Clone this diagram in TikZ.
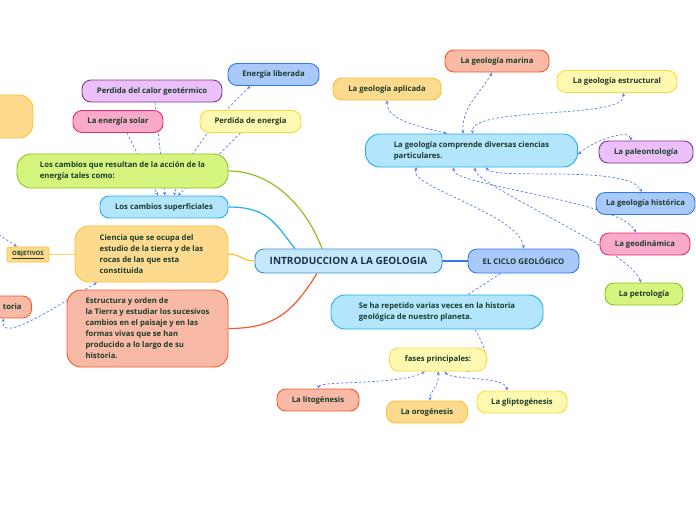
\documentclass[tikz,border=0pt]{standalone}
\usepackage{fontspec}
\setmainfont{Open Sans}
\usetikzlibrary{arrows.meta,backgrounds,calc}

\definecolor{txt}{HTML}{1B3B2B}
\definecolor{navy}{HTML}{1E2D4F}
\definecolor{lnk}{HTML}{5A7BEF}
\definecolor{gfill}{HTML}{D6F57E}\definecolor{gline}{HTML}{8DC021}
\definecolor{bfill}{HTML}{B3E5FC}\definecolor{bline}{HTML}{22AEEE}
\definecolor{ofill}{HTML}{FEDA8E}\definecolor{oline}{HTML}{FBBF2C}
\definecolor{rfill}{HTML}{F8BAA6}\definecolor{rline}{HTML}{F4592A}
\definecolor{pfill}{HTML}{EBC0FA}\definecolor{pline}{HTML}{7D3A8C}
\definecolor{kfill}{HTML}{F9AACB}\definecolor{kline}{HTML}{EA2A6E}
\definecolor{yfill}{HTML}{FFF8B0}\definecolor{yline}{HTML}{F5DC3A}
\definecolor{dfill}{HTML}{A8C9FA}\definecolor{dline}{HTML}{2F7AE5}
\definecolor{mfill}{HTML}{C4E8FA}\definecolor{mline}{HTML}{3C8ED3}

\tikzset{
	box/.style={draw, rounded corners=9pt, line width=0.9pt, text=txt, font=\bfseries\fontsize{7.7}{11}\selectfont, minimum height=22pt, inner sep=3pt},
	bigbox/.style={box, rounded corners=14pt, align=left},
	gbox/.style={fill=gfill, draw=gline},
	bbox/.style={fill=bfill, draw=bline},
	obox/.style={fill=ofill, draw=oline},
	rbox/.style={fill=rfill, draw=rline},
	pbox/.style={fill=pfill, draw=pline},
	kbox/.style={fill=kfill, draw=kline},
	ybox/.style={fill=yfill, draw=yline},
	dbox/.style={fill=dfill, draw=dline},
	dlink/.style={lnk, line width=0.7pt, dash pattern=on 2.5pt off 2pt},
	tip/.style={{Stealth[length=3.5pt,width=3.2pt]}-{Stealth[length=3.5pt,width=3.2pt]}},
	branch/.style={line width=1.2pt},
}

\begin{document}
\begin{tikzpicture}[x=1pt, y=-1pt]
	\useasboundingbox (0,0) rectangle (696,520);
	\clip (0,0) rectangle (696,520);

	% centre
	\node[box, fill=mfill, draw=mline, text=navy, font=\bfseries\fontsize{10}{12}\selectfont, minimum width=187pt, minimum height=24pt] (main) at (348.5,261) {INTRODUCCION A LA GEOLOGIA};
	\node[box, dbox, font=\bfseries\fontsize{7.8}{9}\selectfont, minimum width=111pt, minimum height=24pt] (ciclo) at (523.5,261) {EL CICLO GEOLÓGICO};

	% left branches
	\node[bigbox, gbox, minimum width=211pt, minimum height=34pt] (cambios) at (122.5,171) {Los cambios que resultan de la acción de la\\energía tales como:};
	\node[box, bbox, minimum width=128pt] (sup) at (164,207) {Los cambios superficiales};
	\node[bigbox, obox, minimum width=153pt, minimum height=56pt] (ciencia) at (151.5,254) {Ciencia que se ocupa del\\estudio de la tierra y de las\\rocas de las que esta\\constituida};
	\node[bigbox, rbox, minimum width=161pt, minimum height=77pt] (estr) at (147.5,328.5) {Estructura y orden de\\la Tierra y estudiar los sucesivos\\cambios en el paisaje y en las\\formas vivas que se han\\producido a lo largo de su\\historia.};
	\node[box, obox, rounded corners=2pt, line width=0.6pt, font=\bfseries\fontsize{6}{6}\selectfont, minimum width=42pt, minimum height=15pt, inner sep=1pt] (obj) at (28,254.5) {\underline{OBJETIVOS}};
	\node[bigbox, obox, minimum width=100pt, minimum height=43pt] (naranja) at (-17,116.5) {};
	\node[box, rbox, anchor=east, text width=40pt, align=right, inner xsep=10pt] (toria) at (32,307) {toria};

	% energy
	\node[box, pbox, minimum width=140pt] (calor) at (152,91) {Perdida del calor geotérmico};
	\node[box, dbox, minimum width=91pt] (lib) at (273.5,74.5) {Energía liberada};
	\node[box, kbox, minimum width=90pt] (solar) at (118,121.5) {La energía solar};
	\node[box, ybox, minimum width=101pt] (perd) at (250.5,121.5) {Perdida de energía};

	% sciences
	\node[bigbox, bbox, minimum width=212pt, minimum height=33pt] (cmp) at (471.5,150.5) {La geología comprende diversas ciencias\\particulares.};
	\node[box, obox, minimum width=108pt] (apl) at (387,89) {La geología aplicada};
	\node[box, rbox, minimum width=104pt] (mar) at (497,61) {La geología marina};
	\node[box, ybox, minimum width=120pt] (est) at (617,81.5) {La geología estructural};
	\node[box, pbox, minimum width=94pt] (pal) at (646,152) {La paleontología};
	\node[box, dbox, minimum width=99pt] (his) at (645.5,203.5) {La geología histórica};
	\node[box, kbox, minimum width=90pt] (geo) at (645,244) {La geodinámica};
	\node[box, gbox, minimum width=78pt] (pet) at (644,294) {La petrología};

	% cycle
	\node[bigbox, bbox, minimum width=212pt, minimum height=34pt] (seha) at (437,312) {Se ha repetido varias veces en la historia\\geológica de nuestro planeta.};
	\node[box, ybox, minimum width=97pt, minimum height=23pt] (fases) at (438,359.5) {fases principales:};
	\node[box, rbox, minimum width=82pt] (lito) at (318,400) {La litogénesis};
	\node[box, obox, minimum width=81pt] (oro) at (427,412) {La orogénesis};
	\node[box, ybox, minimum width=90pt] (gli) at (522,402) {La gliptogénesis};

	\coordinate (fuera) at (-5,232);

	\begin{scope}[on background layer]
		\draw[branch, gline] (cambios.east) .. controls +(45,0) and +(-15,-40) .. ($(main.north)+(-26.5,0)$);
		\draw[branch, bline] (sup.east) .. controls +(40,0) and +(-20,-25) .. ($(main.north)+(-53.5,0)$);
		\draw[branch, oline] (ciencia.east) .. controls +(12,0) and +(-12,0) .. (main.west);
		\draw[branch, rline] (estr.east) .. controls +(45,0) and +(-25,40) .. ($(main.south)+(-31.5,0)$);
		\draw[line width=1.5pt, dline] (main.east) -- (ciclo.west);
		\draw[line width=0.9pt, oline!70] (obj.east) -- (ciencia.west |- obj.east);

		\draw[dlink, -{Stealth[length=3.5pt,width=3.2pt]}] ($(solar.south)+(9,0)$) -- ($(sup.north)+(-6,0)$);
		\draw[dlink, -{Stealth[length=3.5pt,width=3.2pt]}] ($(calor.south)+(3,0)$) -- ($(sup.north)+(1,0)$);
		\draw[dlink, -{Stealth[length=3.5pt,width=3.2pt]}] ($(perd.south)+(-10,0)$) -- ($(sup.north)+(14,0)$);
		\draw[dlink, tip] ($(lib.south)+(-23,0)$) .. controls +(-35,33) and +(10,-36) .. ($(sup.north)+(10,0)$);

		\draw[dlink, -{Stealth[length=3.5pt,width=3.2pt]}] (fuera) -- ($(obj.north)+(-11,0)$);
		\draw[dlink, tip] ($(ciencia.south)+(-54.5,0)$) .. controls +(-47,28) and +(-4,25) .. ($(toria.south)+(2,0)$);

		\draw[dlink, tip] (apl.south) .. controls +(0,20) and +(-30,-8) .. ($(cmp.north)+(-24.5,0)$);
		\draw[dlink, tip] ($(mar.south)+(-5,0)$) .. controls +(-12,22) and +(-1,-28) .. ($(cmp.north)+(-8.5,0)$);
		\draw[dlink, tip] ($(est.south)+(6,0)$) .. controls +(5,27) and +(-2,-28) .. ($(cmp.north)+(1,0)$);
		\draw[dlink, tip] ($(cmp.east)+(0,4)$) .. controls +(17,-15) and +(-1,-12) .. ($(pal.north)+(-15,0)$);
		\draw[dlink, tip] ($(cmp.south)+(-54.5,0)$) .. controls +(-12,18) and +(-3,-34) .. (ciclo.north);
		\draw[dlink, tip] ($(cmp.south)+(-17.5,0)$) .. controls +(-4,18) and +(-16,-32) .. ($(geo.north)+(-9,0)$);
		\draw[dlink, tip] ($(cmp.south)+(3.5,0)$) .. controls +(0,18) and +(-11,-33) .. ($(pet.north)+(-3,0)$);
		\draw[dlink, tip] ($(cmp.south)+(14.5,0)$) .. controls +(9,13) and +(-12,-28) .. ($(his.north)+(-4,0)$);

		\draw[dlink] ($(ciclo.south)+(-23,0)$) -- ($(seha.north)+(31,0)$);
		\draw[dlink] ($(seha.south)+(38,0)$) .. controls +(15,25) and +(25,0) .. ($(fases.south)+(27,0)$);
		\draw[dlink, tip] ($(fases.south)+(-13,0)$) .. controls +(-25,14) and +(2,-8) .. (lito.north);
		\draw[dlink, tip] (fases.south) .. controls +(2,14) and +(0,-10) .. ($(oro.north)+(3,0)$);
		\draw[dlink, tip] ($(fases.south)+(7,0)$) .. controls +(5,9) and +(-2,-15) .. ($(gli.north)+(-15,0)$);
	\end{scope}
\end{tikzpicture}
\end{document}
